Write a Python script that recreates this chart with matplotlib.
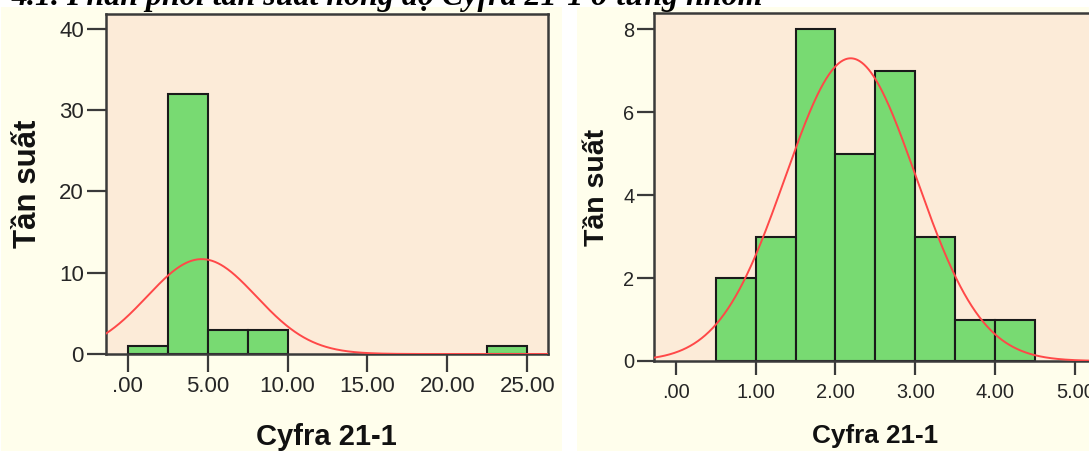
import numpy as np
import matplotlib
matplotlib.use("Agg")
import matplotlib.pyplot as plt
from matplotlib.patches import Rectangle

# ---- data -------------------------------------------------------------
left_bin_edges = [0.0, 2.5, 5.0, 7.5, 10.0, 12.5, 15.0, 17.5, 20.0, 22.5, 25.0]
left_counts = [1, 32, 3, 3, 0, 0, 0, 0, 0, 1]
left_mean, left_sd = 4.63, 3.42
left_xticks = [0, 5, 10, 15, 20, 25]
left_xticklabels = [".00", "5.00", "10.00", "15.00", "20.00", "25.00"]
left_yticks = [0, 10, 20, 30, 40]

right_bin_edges = [0.5, 1.0, 1.5, 2.0, 2.5, 3.0, 3.5, 4.0, 4.5]
right_counts = [2, 3, 8, 5, 7, 3, 1, 1]
right_mean, right_sd = 2.19, 0.82
right_xticks = [0, 1, 2, 3, 4, 5]
right_xticklabels = [".00", "1.00", "2.00", "3.00", "4.00", "5.00"]
right_yticks = [0, 2, 4, 6, 8]

title = "4.1. Phân phối tần suất nồng độ Cyfra 21-1 ở từng nhóm"
xlabel = "Cyfra 21-1"
ylabel = "Tần suất"

# ---- style ------------------------------------------------------------
W, H = 1089, 451
DPI = 100
CREAM = "#FFFEEC"
PEACH = "#FCEBD8"
GREEN = "#78DA72"
EDGE = "#1a1a1a"
SPINE = "#3a3a3a"
CURVE = "#FF4848"
TXT = "#262626"
plt.rcParams["font.family"] = ["Liberation Sans", "DejaVu Sans"]

fig = plt.figure(figsize=(W / DPI, H / DPI), dpi=DPI, facecolor="white")

# panel backgrounds
fig.patches.append(Rectangle((1 / W, 0), (562 - 1) / W, (H - 7) / H,
                             transform=fig.transFigure, facecolor=CREAM,
                             edgecolor="none", zorder=-10))
fig.patches.append(Rectangle((577 / W, 0), (W - 577) / W, (H - 7) / H,
                             transform=fig.transFigure, facecolor=CREAM,
                             edgecolor="none", zorder=-10))


def px_axes(x0, x1, ytop, ybot):
    return fig.add_axes([x0 / W, (H - ybot) / H, (x1 - x0) / W, (ybot - ytop) / H])


def panel(ax, edges, counts, mean, sd, xlim, ylim, xticks, xticklabels, yticks,
          tick_fs, label_fs, ylab_fs, xtick_len, ytick_len, xpad, ypad,
          ylab_x, xlab_xy):
    ax.set_facecolor(PEACH)
    edges = np.asarray(edges)
    counts = np.asarray(counts)
    widths = np.diff(edges)
    keep = counts > 0
    ax.bar(edges[:-1][keep], counts[keep], width=widths[keep], align="edge",
           color=GREEN, edgecolor=EDGE, linewidth=1.5, zorder=2)
    n = counts.sum()
    bw = widths[0]
    xs = np.linspace(xlim[0], xlim[1], 600)
    ys = n * bw * np.exp(-0.5 * ((xs - mean) / sd) ** 2) / (sd * np.sqrt(2 * np.pi))
    ax.plot(xs, ys, color=CURVE, linewidth=1.4, zorder=3)
    ax.set_xlim(*xlim)
    ax.set_ylim(*ylim)
    ax.set_xticks(xticks)
    ax.set_xticklabels(xticklabels)
    ax.set_yticks(yticks)
    ax.tick_params(axis="x", length=xtick_len, width=1.6, color=SPINE,
                   labelsize=tick_fs, labelcolor=TXT, pad=xpad)
    ax.tick_params(axis="y", length=ytick_len, width=1.6, color=SPINE,
                   labelsize=tick_fs, labelcolor=TXT, pad=ypad)
    for s in ax.spines.values():
        s.set_color(SPINE)
        s.set_linewidth(1.8)
    ax.set_ylabel(ylabel, fontsize=ylab_fs, fontweight="bold", color="#111111",
                  va="center")
    ax.yaxis.set_label_coords(ylab_x, 0.5)
    ax.set_xlabel(xlabel, fontsize=label_fs, fontweight="bold", color="#111111",
                  va="center")
    ax.xaxis.set_label_coords(*xlab_xy)


# left panel
axL = px_axes(106, 548, 14, 354)
panel(axL, left_bin_edges, left_counts, left_mean, left_sd,
      xlim=(-1.36, 26.3), ylim=(0, 41.8), xticks=left_xticks,
      xticklabels=left_xticklabels, yticks=left_yticks,
      tick_fs=16, label_fs=21, ylab_fs=22.5, xtick_len=13, ytick_len=14,
      xpad=2.5, ypad=2, ylab_x=(28 - 106) / 442,
      xlab_xy=((326 - 106) / 442, (354 - 437) / 340))

# right panel (right border runs past the edge of the canvas)
x0_px, x_right = 653.8, 5.4
px_per_unit = 79.9
x1_px = 675.7 + x_right * px_per_unit
axR = px_axes(x0_px, x1_px, 13, 361)
panel(axR, right_bin_edges, right_counts, right_mean, right_sd,
      xlim=(-0.274, x_right), ylim=(0, 8.39), xticks=right_xticks,
      xticklabels=right_xticklabels, yticks=right_yticks,
      tick_fs=14.4, label_fs=18.8, ylab_fs=20.5, xtick_len=10, ytick_len=12,
      xpad=5.5, ypad=2, ylab_x=(597 - x0_px) / (x1_px - x0_px),
      xlab_xy=((874.6 - x0_px) / (x1_px - x0_px), (361 - 436) / 348))

# heading, mostly above the top edge
fig.text(763 / W, 1 - 5 / H, title, ha="right", va="baseline",
         fontsize=23, fontweight="bold", style="italic",
         family=["Liberation Serif", "DejaVu Serif"], color="black", zorder=10)

fig.savefig("out.png", dpi=DPI, facecolor="white")
